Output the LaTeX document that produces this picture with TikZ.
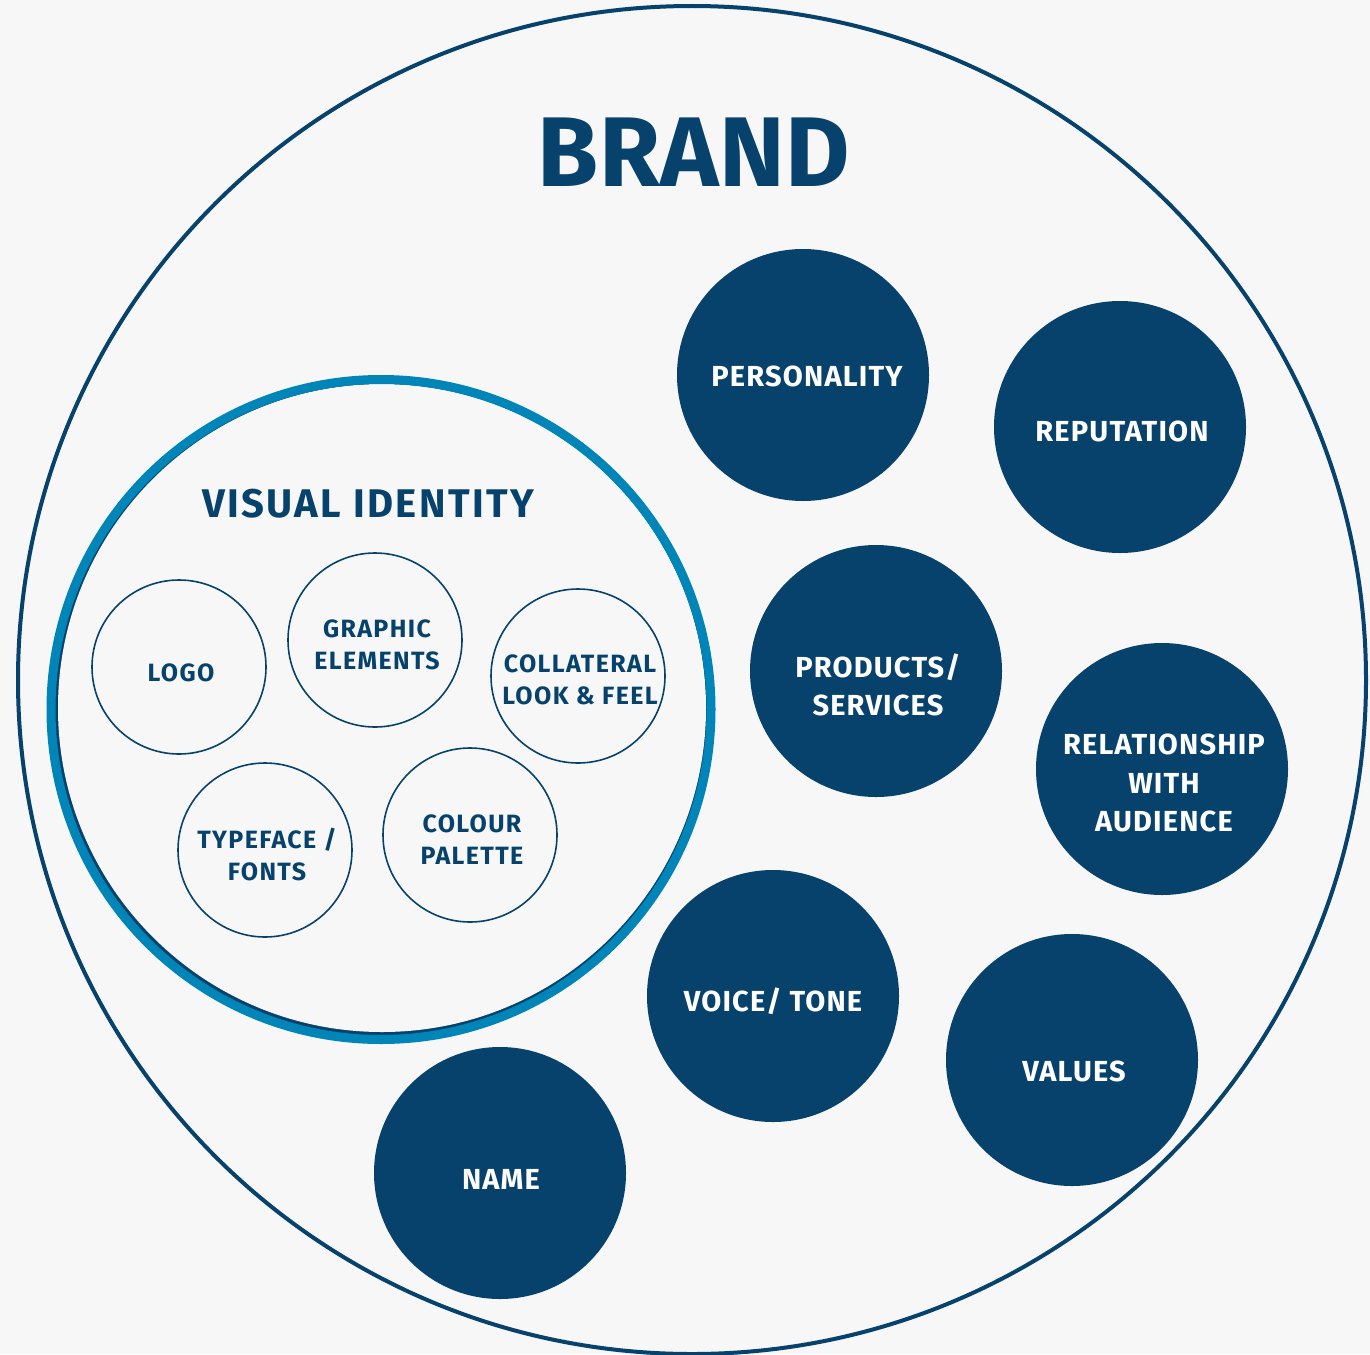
\documentclass[tikz,border=0pt]{standalone}
\usepackage{fontspec}
\setmainfont{Fira Sans}
\newfontfamily\trackA[LetterSpace=4]{Fira Sans}
\newfontfamily\trackB[LetterSpace=5.5]{Fira Sans}
\newfontfamily\trackC[LetterSpace=6]{Fira Sans}
\newfontfamily\trackD[LetterSpace=0.5]{Fira Sans}
\definecolor{navy}{RGB}{7,66,108}
\definecolor{vblue}{RGB}{0,133,185}
\definecolor{bgc}{RGB}{247,247,247}
\tikzset{
  bigdot/.style={circle, fill=navy, inner sep=0pt, minimum size=252pt},
  ring/.style={circle, draw=navy, line width=1.6pt, inner sep=0pt, minimum size=174pt},
  bigtxt/.style={text=white, font=\trackA\bfseries\fontsize{29}{38.5}\selectfont, align=center, inner sep=0pt},
  smalltxt/.style={text=navy, font=\trackB\bfseries\fontsize{25}{32}\selectfont, align=center, inner sep=0pt},
}
\begin{document}
\begin{tikzpicture}[x=1pt,y=-1pt]
\fill[bgc] (0,0) rectangle (1370,1354);
\useasboundingbox (0,0) rectangle (1370,1354);
% outer brand circle
\node[circle, draw=navy, line width=4pt, inner sep=0pt, minimum size=1348pt] (brand) at (692,680) {};
\node[text=navy, font=\trackD\bfseries\fontsize{99}{99}\selectfont, inner sep=0pt] (brandt) at (694,152) {BRAND};
% visual identity circle with shadow crescent
\fill[navy] (378,712) circle (330);
\fill[bgc] (382,708) circle (324);
\node[circle, draw=vblue, line width=9pt, inner sep=0pt, minimum size=660pt] (vi) at (381,709.5) {};
\node[text=navy, font=\trackC\bfseries\fontsize{40}{40}\selectfont, inner sep=0pt] (vit) at (368,503.5) {VISUAL IDENTITY};
% small rings
\node[ring] (logo) at (179,667) {};
\node[ring] (graphic) at (375,640) {};
\node[ring] (collat) at (578,676) {};
\node[ring] (type) at (265,850) {};
\node[ring] (colour) at (470,835) {};
\node[smalltxt] (logot) at (181,673) {LOGO};
\node[smalltxt] (graphict) at (377,645) {GRAPHIC\\ELEMENTS};
\node[smalltxt] (collatt) at (580,680) {COLLATERAL\\LOOK \& FEEL};
\node[smalltxt] (typet) at (267,855) {TYPEFACE /\\FONTS};
\node[smalltxt] (colourt) at (472,840) {COLOUR\\PALETTE};
% big dots
\node[bigdot] (pers) at (803,375) {};
\node[bigdot] (rep) at (1120,427) {};
\node[bigdot] (prod) at (876,671) {};
\node[bigdot] (rel) at (1162,769) {};
\node[bigdot] (voice) at (773,996) {};
\node[bigdot] (values) at (1072,1060) {};
\node[bigdot] (name) at (500,1173) {};
\node[bigtxt] (perst) at (807,376) {PERSONALITY};
\node[bigtxt] (rept) at (1122,431) {REPUTATION};
\node[bigtxt] (prodt) at (878,685) {PRODUCTS/\\SERVICES};
\node[bigtxt] (relt) at (1164,783) {RELATIONSHIP\\WITH\\AUDIENCE};
\node[bigtxt] (voicet) at (773,1001) {VOICE/ TONE};
\node[bigtxt] (valuest) at (1074,1071) {VALUES};
\node[bigtxt] (namet) at (501,1179) {NAME};
\end{tikzpicture}
\end{document}
